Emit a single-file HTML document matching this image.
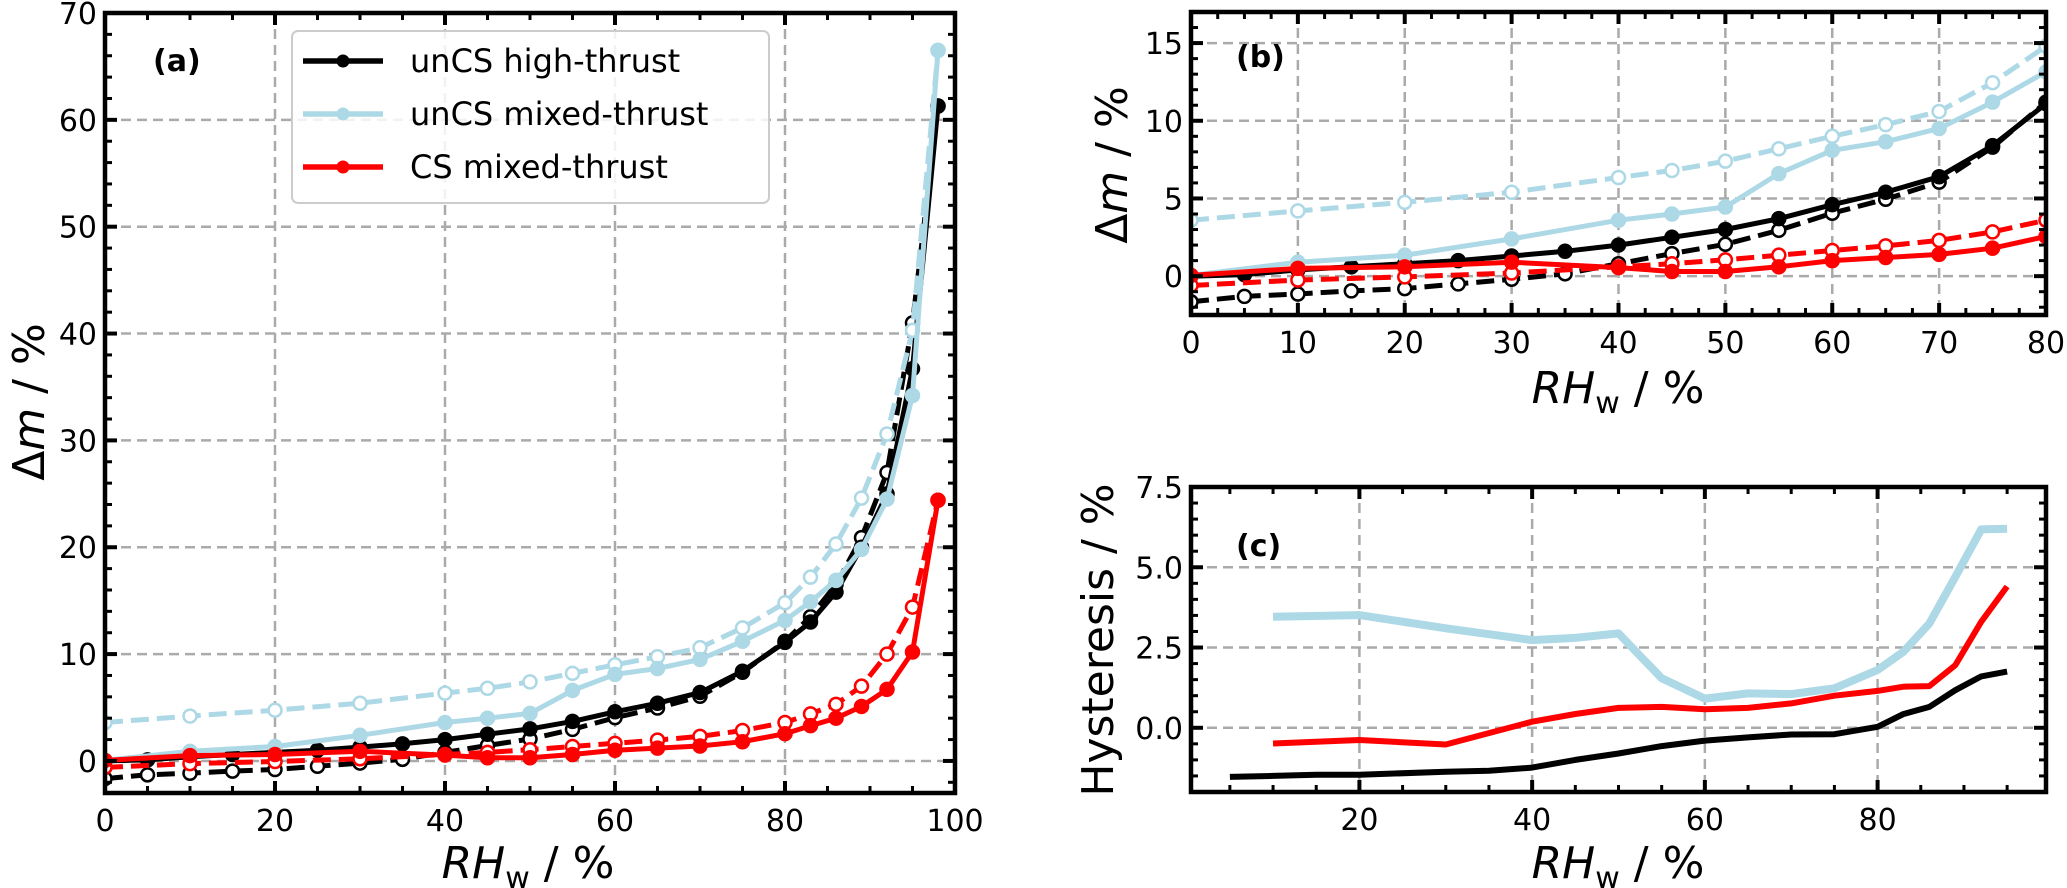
<!DOCTYPE html>
<html><head><meta charset="utf-8"><style>
html,body{margin:0;padding:0;background:#fff;}
svg{display:block;font-family:"DejaVu Sans","Liberation Sans",sans-serif;}
</style></head><body>
<svg id="fig" width="2067" height="888" viewBox="0 0 2067 888" xmlns="http://www.w3.org/2000/svg"></svg>
<script>
// ---- data ----
const xBlackAds = [0,5,10,15,20,25,30,35,40,45,50,55,60,65,70,75,80,83,86,89,92,95,98];
const yBlackAds = [0,0.1,0.4,0.6,0.8,1.0,1.3,1.6,2.0,2.5,3.0,3.7,4.6,5.4,6.4,8.4,11.1,13.0,15.8,20.0,25.0,36.7,61.3];
const xBlackDes = [0,5,10,15,20,25,30,35,40,45,50,55,60,65,70,75,80,83,86,89,92,95,98];
const yBlackDes = [-1.65,-1.3,-1.15,-0.95,-0.8,-0.5,-0.2,0.15,0.8,1.45,2.05,2.95,4.05,4.95,6.05,8.3,11.2,13.5,16.5,20.9,27.0,41.0,61.3];
const xOther = [0,10,20,30,40,45,50,55,60,65,70,75,80,83,86,89,92,95,98];
const yBlueAds = [0.05,0.9,1.35,2.4,3.6,4.0,4.45,6.6,8.1,8.65,9.5,11.2,13.15,14.9,16.9,19.8,24.5,34.2,66.5];
const yBlueDes = [3.6,4.2,4.75,5.4,6.35,6.8,7.4,8.2,9.0,9.75,10.6,12.45,14.8,17.2,20.3,24.6,30.6,40.3,66.5];
const yRedAds = [0.05,0.5,0.6,0.9,0.55,0.3,0.3,0.6,1.0,1.2,1.4,1.8,2.55,3.3,4.0,5.1,6.7,10.2,24.4];
const yRedDes = [-0.6,-0.25,-0.05,0.2,0.6,0.8,1.05,1.35,1.65,1.95,2.3,2.85,3.6,4.4,5.3,7.0,10.0,14.4,24.4];
const xHystBlack = [5,10,15,20,30,35,40,45,50,55,60,65,70,75,80,83,86,89,92,95];
const yHystBlack = [-1.53,-1.5,-1.46,-1.46,-1.37,-1.34,-1.24,-1.0,-0.8,-0.57,-0.4,-0.3,-0.21,-0.2,0.03,0.43,0.65,1.17,1.6,1.75];
const xHystOther = [10,20,30,40,45,50,55,60,65,70,75,80,83,86,89,92,95];
const yHystBlue = [3.46,3.51,3.1,2.73,2.8,2.94,1.54,0.91,1.07,1.05,1.23,1.8,2.37,3.25,4.7,6.18,6.2];
const yHystRed = [-0.49,-0.38,-0.52,0.19,0.43,0.62,0.65,0.58,0.62,0.76,1.0,1.15,1.28,1.3,1.95,3.3,4.4];
const ticksA_x = [0,20,40,60,80,100];
const ticksA_y = [0,10,20,30,40,50,60,70];
const ticksB_x = [0,10,20,30,40,50,60,70,80];
const ticksB_y = [0,5,10,15];
const ticksC_x = [20,40,60,80];
const ticksC_y = [0.0,2.5,5.0,7.5];
const legendLabels = ["unCS high-thrust","unCS mixed-thrust","CS mixed-thrust"];

const NS="http://www.w3.org/2000/svg";
const svg=document.getElementById('fig');
function mk(tag,attrs,parent){const e=document.createElementNS(NS,tag);for(const k in attrs)e.setAttribute(k,attrs[k]);(parent||svg).appendChild(e);return e;}
const BLUE="#add8e6", RED="#ff0000", BLK="#000000";
const defs=mk('defs',{});
let clipN=0;

function makeAxes(name,px0,px1,py0,py1,xmin,xmax,ymin,ymax){
  const g=mk('g',{});
  
  
  const id='clip'+(clipN++);
  const cp=mk('clipPath',{id:id},defs);
  mk('rect',{x:px0,y:py0,width:px1-px0,height:py1-py0},cp);
  const dg=mk('g',{'clip-path':'url(#'+id+')'},g);
  return {g,dg,px0,px1,py0,py1,
    sx:v=>px0+(v-xmin)/(xmax-xmin)*(px1-px0),
    sy:v=>py1-(v-ymin)/(ymax-ymin)*(py1-py0),xmin,xmax,ymin,ymax};
}
function grid(ax,xt,yt){
  const gg=mk('g',{},ax.dg);
  
  
  xt.forEach(v=>{const x=ax.sx(v);if(x>ax.px0+2&&x<ax.px1-2)mk('line',{x1:x,x2:x,y1:ax.py0,y2:ax.py1,stroke:'#aaaaaa','stroke-width':2.5,'stroke-dasharray':'10,6'},gg);});
  yt.forEach(v=>{const y=ax.sy(v);if(y>ax.py0+2&&y<ax.py1-2)mk('line',{x1:ax.px0,x2:ax.px1,y1:y,y2:y,stroke:'#aaaaaa','stroke-width':2.5,'stroke-dasharray':'10,6'},gg);});
}
function frame(ax,xt,yt,xminor,yminor,fmtY){
  const g=mk('g',{},ax.g);
  
  
  const tk=(x1,y1,x2,y2,w)=>mk('line',{x1,y1,x2,y2,stroke:'#000','stroke-width':w},g);
  for(let v=Math.ceil(ax.xmin/xminor)*xminor; v<=ax.xmax+1e-9; v+=xminor){const x=ax.sx(v);tk(x,ax.py1,x,ax.py1-7,3);tk(x,ax.py0,x,ax.py0+7,3);}
  for(let v=Math.ceil(ax.ymin/yminor)*yminor; v<=ax.ymax+1e-9; v+=yminor){const y=ax.sy(v);tk(ax.px0,y,ax.px0+7,y,3);tk(ax.px1,y,ax.px1-7,y,3);}
  xt.forEach(v=>{const x=ax.sx(v);tk(x,ax.py1,x,ax.py1-12,4);tk(x,ax.py0,x,ax.py0+12,4);
    const t=mk('text',{x:x,y:ax.py1+38,'font-size':30,'text-anchor':'middle',fill:'#000'},g);t.textContent=String(v);
    
    });
  yt.forEach(v=>{const y=ax.sy(v);tk(ax.px0,y,ax.px0+12,y,4);tk(ax.px1,y,ax.px1-12,y,4);
    const t=mk('text',{x:ax.px0-8,y:y+11,'font-size':30,'text-anchor':'end',fill:'#000'},g);t.textContent=fmtY?fmtY(v):String(v);
    
    });
  mk('rect',{x:ax.px0,y:ax.py0,width:ax.px1-ax.px0,height:ax.py1-ax.py0,fill:'none',stroke:'#000','stroke-width':4.5},g);
}
function series(ax,name,xs,ys,color,dashed,filled,lw,r){
  const g=mk('g',{},ax.dg);
  
  
  const pts=xs.map((x,i)=>ax.sx(x).toFixed(1)+','+ax.sy(ys[i]).toFixed(1)).join(' ');
  const attrs={points:pts,fill:'none',stroke:color,'stroke-width':lw,'stroke-linejoin':'round'};
  if(dashed)attrs['stroke-dasharray']='18,8';
  mk('polyline',attrs,g);
  if(r>0)xs.forEach((x,i)=>{const c=mk('circle',{cx:ax.sx(x),cy:ax.sy(ys[i]),r:r,fill:filled?color:'#fff',stroke:color,'stroke-width':2.5},g);
    
    });
}
function label(txt,x,y,size,opts){const t=mk('text',Object.assign({x,y,'font-size':size,fill:'#000'},opts||{}));t.innerHTML=txt;return t;}

// ---- panel a ----
const A=makeAxes('panel-a',105,955,13,793,0,100,-3,70);
grid(A,ticksA_x,ticksA_y);
series(A,'unCS-high-thrust-desorption',xBlackDes,yBlackDes,BLK,true,false,5,6.5);
series(A,'unCS-high-thrust-adsorption',xBlackAds,yBlackAds,BLK,false,true,5,6.5);
series(A,'unCS-mixed-thrust-desorption',xOther,yBlueDes,BLUE,true,false,5,6.5);
series(A,'unCS-mixed-thrust-adsorption',xOther,yBlueAds,BLUE,false,true,5,6.5);
series(A,'CS-mixed-thrust-desorption',xOther,yRedDes,RED,true,false,5,6.5);
series(A,'CS-mixed-thrust-adsorption',xOther,yRedAds,RED,false,true,5,6.5);
frame(A,ticksA_x,ticksA_y,5,2);
let t=label('(a)',153,71,30,{'font-weight':'bold'});


// legend
const lg=mk('g',{});


mk('rect',{x:292,y:31,width:477,height:172,rx:6,fill:'#fff','fill-opacity':0.85,stroke:'#cccccc','stroke-width':2},lg);
[BLK,BLUE,RED].forEach((c,i)=>{const y=61+i*53;
  const e=mk('g',{},lg);
  
  
  mk('line',{x1:303,x2:383,y1:y,y2:y,stroke:c,'stroke-width':5.5},e);
  mk('circle',{cx:343,cy:y,r:6.5,fill:c},e);
  const tt=mk('text',{x:410,y:y+11,'font-size':32,fill:'#000'},e);tt.textContent=legendLabels[i];});
t=label('<tspan font-style="italic">RH</tspan><tspan font-size="30" dy="10">w</tspan><tspan dy="-10"> / %</tspan>',528,878,44,{'text-anchor':'middle'});


t=label('Δ<tspan font-style="italic">m</tspan> / %',0,0,44,{'text-anchor':'middle',transform:'translate(44,402) rotate(-90)'});



// ---- panel b ----
const B=makeAxes('panel-b',1191,2046,12,315,0,80,-2.5,17);
grid(B,ticksB_x,ticksB_y);
series(B,'unCS-high-thrust-desorption-b',xBlackDes,yBlackDes,BLK,true,false,5,6.5);
series(B,'unCS-high-thrust-adsorption-b',xBlackAds,yBlackAds,BLK,false,true,5,6.5);
series(B,'unCS-mixed-thrust-desorption-b',xOther,yBlueDes,BLUE,true,false,5,6.5);
series(B,'unCS-mixed-thrust-adsorption-b',xOther,yBlueAds,BLUE,false,true,5,6.5);
series(B,'CS-mixed-thrust-desorption-b',xOther,yRedDes,RED,true,false,5,6.5);
series(B,'CS-mixed-thrust-adsorption-b',xOther,yRedAds,RED,false,true,5,6.5);
frame(B,ticksB_x,ticksB_y,2.5,1);
t=label('(b)',1236,67,30,{'font-weight':'bold'});


t=label('<tspan font-style="italic">RH</tspan><tspan font-size="30" dy="10">w</tspan><tspan dy="-10"> / %</tspan>',1618,403,44,{'text-anchor':'middle'});


t=label('Δ<tspan font-style="italic">m</tspan> / %',0,0,44,{'text-anchor':'middle',transform:'translate(1127,165) rotate(-90)'});



// ---- panel c ----
const C=makeAxes('panel-c',1191,2046,487,792,0.5,99.5,-2,7.5);
grid(C,ticksC_x,ticksC_y);
series(C,'hysteresis-unCS-mixed-thrust',xHystOther,yHystBlue,BLUE,false,false,8,0);
series(C,'hysteresis-CS-mixed-thrust',xHystOther,yHystRed,RED,false,false,6,0);
series(C,'hysteresis-unCS-high-thrust',xHystBlack,yHystBlack,BLK,false,false,6,0);
frame(C,ticksC_x,ticksC_y,5,0.5,v=>v.toFixed(1));
t=label('(c)',1236,556,30,{'font-weight':'bold'});


t=label('<tspan font-style="italic">RH</tspan><tspan font-size="30" dy="10">w</tspan><tspan dy="-10"> / %</tspan>',1618,878,44,{'text-anchor':'middle'});


t=label('Hysteresis / %',0,0,44,{'text-anchor':'middle',transform:'translate(1113,640) rotate(-90)'});


</script>
</body></html>
